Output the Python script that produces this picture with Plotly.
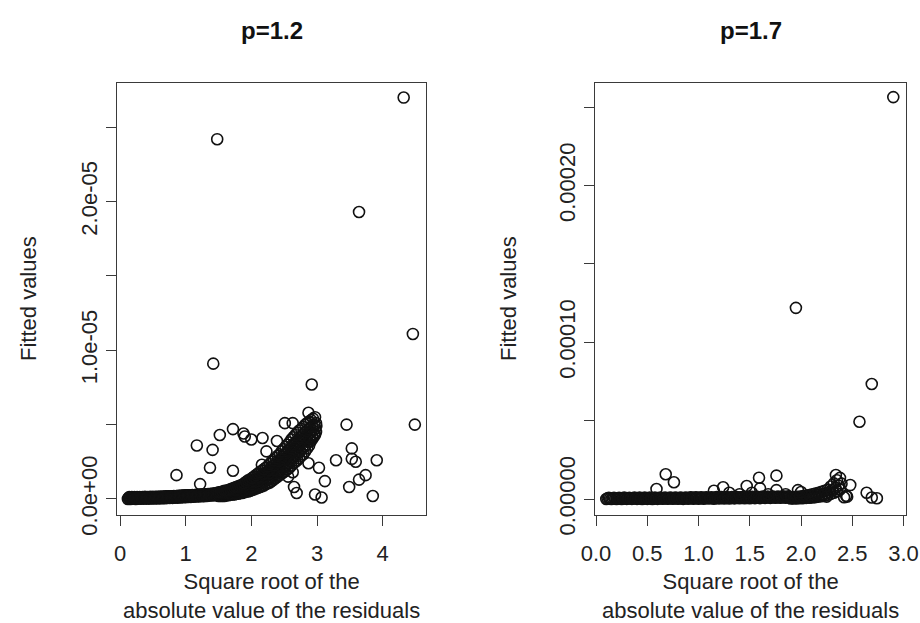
import plotly.graph_objects as go

W, H = 920, 623

# ---------------- p = 1.2 panel ----------------
# fitted values stored in units of 1e-5
p12_band_x = [0.12,0.14,0.16,0.18,0.20,0.22,0.24,0.26,0.28,0.30,
              0.32,0.34,0.36,0.38,0.40,0.42,0.44,0.46,0.48,0.50,
              0.52,0.54,0.56,0.58,0.60,0.62,0.64,0.66,0.68,0.70,
              0.72,0.74,0.76,0.78,0.80,0.82,0.84,0.86,0.88,0.90,
              0.92,0.94,0.96,0.98,1.00,1.02,1.04,1.06,1.08,1.10,
              1.12,1.14,1.16,1.18,1.20,1.22,1.24,1.26,1.28,1.30,
              1.32,1.34,1.36,1.38,1.40,1.42,1.44,1.46,1.48]
p12_band_y = [0.000,0.012,0.000,0.013,0.001,0.012,0.000,0.013,0.001,0.012,
              0.001,0.013,0.002,0.014,0.002,0.013,0.002,0.014,0.003,0.014,
              0.003,0.015,0.004,0.015,0.004,0.016,0.005,0.016,0.005,0.017,
              0.006,0.018,0.007,0.018,0.007,0.019,0.008,0.020,0.009,0.021,
              0.010,0.022,0.011,0.023,0.012,0.024,0.013,0.025,0.014,0.026,
              0.015,0.027,0.016,0.028,0.017,0.029,0.018,0.030,0.019,0.032,
              0.020,0.033,0.022,0.035,0.023,0.037,0.025,0.038,0.027]
p12_band_x_off = [0.13,0.15,0.17,0.19,0.21,0.23,0.25,0.27,0.29,0.31,
                  0.33,0.35,0.37,0.39,0.41,0.43,0.45,0.47,0.49,0.51,
                  0.53,0.55,0.57,0.59,0.61,0.63,0.65,0.67,0.69,0.71,
                  0.73,0.75,0.77,0.79,0.81,0.83,0.85,0.87,0.89,0.91,
                  0.93,0.95,0.97,0.99,1.01,1.03,1.05,1.07,1.09,1.11,
                  1.13,1.15,1.17,1.19,1.21,1.23,1.25,1.27,1.29,1.31,
                  1.33,1.35,1.37,1.39,1.41,1.43,1.45,1.47,1.49]
p12_band_y_off = [0.006,0.006,0.007,0.007,0.007,0.007,0.008,0.008,0.008,0.008,
                  0.009,0.009,0.009,0.009,0.010,0.010,0.010,0.010,0.011,0.011,
                  0.011,0.012,0.012,0.012,0.013,0.013,0.013,0.014,0.014,0.015,
                  0.015,0.016,0.016,0.017,0.017,0.018,0.018,0.019,0.019,0.020,
                  0.020,0.021,0.021,0.022,0.022,0.023,0.023,0.024,0.024,0.025,
                  0.025,0.026,0.026,0.027,0.027,0.028,0.028,0.029,0.029,0.030,
                  0.030,0.031,0.031,0.032,0.033,0.034,0.035,0.036,0.037]

p12_rise_x = [1.50,1.53,1.56,1.59,1.62,1.65,1.68,1.71,1.74,1.77,
              1.80,1.83,1.86,1.89,1.92,1.95,1.98,2.01,2.04,2.07,
              2.10,2.13,2.16,2.19,2.22,2.25,2.28,2.31,2.34,2.37,
              2.40,2.43,2.46,2.49,2.52,2.55,2.58,2.61,2.64,2.67,
              2.70,2.73,2.76,2.79,2.82,2.85,2.88,2.91,2.94,2.97]
p12_rise_x_off = [1.515,1.545,1.575,1.605,1.635,1.665,1.695,1.725,1.755,1.785,
                  1.815,1.845,1.875,1.905,1.935,1.965,1.995,2.025,2.055,2.085,
                  2.115,2.145,2.175,2.205,2.235,2.265,2.295,2.325,2.355,2.385,
                  2.415,2.445,2.475,2.505,2.535,2.565,2.595,2.625,2.655,2.685,
                  2.715,2.745,2.775,2.805,2.835,2.865,2.895,2.925,2.955,2.985]
p12_rise_r1 = [0.020,0.020,0.020,0.020,0.025,0.025,0.030,0.030,0.030,0.035,
               0.035,0.040,0.040,0.045,0.050,0.050,0.055,0.060,0.065,0.070,
               0.075,0.080,0.085,0.090,0.100,0.105,0.110,0.120,0.130,0.140,
               0.150,0.160,0.170,0.180,0.190,0.200,0.210,0.225,0.240,0.250,
               0.260,0.275,0.290,0.300,0.320,0.340,0.360,0.390,0.410,0.430]
p12_rise_r2 = [0.025,0.025,0.028,0.030,0.033,0.035,0.040,0.040,0.043,0.048,
               0.050,0.055,0.058,0.063,0.068,0.070,0.075,0.080,0.088,0.093,
               0.098,0.105,0.113,0.118,0.128,0.135,0.143,0.153,0.163,0.175,
               0.185,0.195,0.208,0.220,0.230,0.243,0.255,0.268,0.283,0.295,
               0.308,0.323,0.338,0.350,0.365,0.383,0.400,0.420,0.435,0.450]
p12_rise_r3 = [0.030,0.030,0.035,0.040,0.040,0.045,0.050,0.050,0.055,0.060,
               0.065,0.070,0.075,0.080,0.085,0.090,0.095,0.100,0.110,0.115,
               0.120,0.130,0.140,0.145,0.155,0.165,0.175,0.185,0.195,0.210,
               0.220,0.230,0.245,0.260,0.270,0.285,0.300,0.310,0.325,0.340,
               0.355,0.370,0.385,0.400,0.410,0.425,0.440,0.450,0.460,0.470]
p12_rise_r4 = [0.038,0.038,0.043,0.048,0.048,0.053,0.058,0.060,0.065,0.070,
               0.075,0.080,0.085,0.093,0.100,0.108,0.113,0.120,0.130,0.138,
               0.145,0.155,0.165,0.173,0.183,0.193,0.205,0.218,0.228,0.243,
               0.255,0.265,0.283,0.298,0.310,0.325,0.340,0.355,0.370,0.385,
               0.400,0.415,0.428,0.443,0.455,0.468,0.480,0.490,0.500,0.510]
p12_rise_r5 = [0.045,0.045,0.050,0.055,0.055,0.060,0.065,0.070,0.075,0.080,
               0.085,0.090,0.095,0.105,0.115,0.125,0.130,0.140,0.150,0.160,
               0.170,0.180,0.190,0.200,0.210,0.220,0.235,0.250,0.260,0.275,
               0.290,0.300,0.320,0.335,0.350,0.365,0.380,0.400,0.415,0.430,
               0.445,0.460,0.470,0.485,0.500,0.510,0.520,0.530,0.540,0.550]

p12_out_x = [4.32,1.48,3.64,4.46,1.42,2.92,2.87,2.51,2.63,2.99,3.45,4.49,
             1.72,1.52,1.88,1.90,2.00,2.17,2.39,1.17,1.41,2.23,2.88,3.53,
             3.29,3.53,3.59,3.91,2.87,3.03,1.37,1.72,2.63,3.12,0.86,1.22,
             3.74,3.64,3.49,2.65,2.69,2.97,3.07,3.85,2.16,2.56]
p12_out_y = [2.70,2.42,1.93,1.11,0.91,0.77,0.58,0.51,0.51,0.49,0.50,0.50,
             0.47,0.43,0.44,0.42,0.40,0.41,0.39,0.36,0.33,0.32,0.41,0.34,
             0.26,0.27,0.25,0.26,0.24,0.21,0.21,0.19,0.18,0.12,0.16,0.10,
             0.16,0.13,0.08,0.08,0.04,0.03,0.01,0.02,0.23,0.15]

# ---------------- p = 1.7 panel ----------------
# fitted values stored in units of 1e-4
p17_band_x = [0.100,0.125,0.150,0.175,0.200,0.225,0.250,0.275,0.300,0.325,
              0.350,0.375,0.400,0.425,0.450,0.475,0.500,0.525,0.550,0.575,
              0.600,0.625,0.650,0.675,0.700,0.725,0.750,0.775,0.800,0.825,
              0.850,0.875,0.900,0.925,0.950,0.975,1.000,1.025,1.050,1.075,
              1.100,1.125,1.150,1.175,1.200,1.225,1.250,1.275,1.300,1.325,
              1.350,1.375,1.400,1.425,1.450,1.475,1.500,1.525,1.550,1.575,
              1.600,1.625,1.650,1.675,1.700,1.725,1.750,1.775,1.800,1.825,
              1.850,1.875]
p17_band_y = [0.000,0.008,0.000,0.008,0.000,0.008,0.000,0.009,0.001,0.008,
              0.001,0.009,0.001,0.009,0.000,0.009,0.001,0.009,0.000,0.009,
              0.001,0.010,0.002,0.009,0.002,0.010,0.002,0.010,0.002,0.010,
              0.001,0.010,0.002,0.011,0.002,0.011,0.002,0.011,0.002,0.011,
              0.003,0.011,0.002,0.012,0.003,0.012,0.003,0.012,0.003,0.012,
              0.004,0.013,0.005,0.013,0.005,0.013,0.005,0.014,0.006,0.014,
              0.006,0.015,0.007,0.015,0.007,0.016,0.008,0.016,0.008,0.017,
              0.008,0.018]
p17_band_x_off = [0.112,0.137,0.162,0.187,0.212,0.237,0.262,0.287,0.312,0.337,
                  0.362,0.387,0.412,0.437,0.462,0.487,0.512,0.537,0.562,0.587,
                  0.612,0.637,0.662,0.687,0.712,0.737,0.762,0.787,0.812,0.837,
                  0.862,0.887,0.912,0.937,0.962,0.987,1.012,1.037,1.062,1.087,
                  1.112,1.137,1.162,1.187,1.212,1.237,1.262,1.287,1.312,1.337,
                  1.362,1.387,1.412,1.437,1.462,1.487,1.512,1.537,1.562,1.587,
                  1.612,1.637,1.662,1.687,1.712,1.737,1.762,1.787,1.812,1.837,
                  1.862,1.887]
p17_band_y_off = [0.004,0.004,0.004,0.004,0.004,0.004,0.004,0.004,0.004,0.004,
                  0.004,0.005,0.004,0.005,0.004,0.005,0.005,0.005,0.005,0.005,
                  0.005,0.005,0.006,0.005,0.006,0.006,0.006,0.006,0.006,0.006,
                  0.006,0.006,0.007,0.007,0.007,0.007,0.007,0.007,0.007,0.007,
                  0.007,0.007,0.008,0.008,0.008,0.008,0.008,0.008,0.008,0.008,
                  0.009,0.009,0.009,0.009,0.009,0.009,0.010,0.010,0.010,0.010,
                  0.011,0.011,0.011,0.011,0.012,0.012,0.012,0.012,0.013,0.013,
                  0.013,0.014]

p17_rise_x = [1.90,1.93,1.96,1.99,2.02,2.05,2.08,2.11,2.14,2.17,
              2.20,2.23,2.26,2.29,2.32,2.35,2.38]
p17_rise_x_off = [1.915,1.945,1.975,2.005,2.035,2.065,2.095,2.125,2.155,2.185,
                  2.215,2.245,2.275,2.305,2.335,2.365,2.395]
p17_rise_low = [0.003,0.003,0.004,0.005,0.006,0.007,0.008,0.010,0.012,0.015,
                0.018,0.022,0.027,0.033,0.040,0.050,0.060]
p17_rise_mid = [0.007,0.008,0.009,0.011,0.013,0.015,0.017,0.020,0.024,0.028,
                0.032,0.038,0.044,0.056,0.070,0.085,0.098]
p17_rise_high = [0.010,0.012,0.014,0.016,0.019,0.022,0.026,0.030,0.035,0.040,
                 0.046,0.053,0.060,0.080,0.100,0.120,0.135]

p17_out_x = [2.90,1.95,2.69,2.57,0.68,0.76,0.59,1.76,1.59,1.47,1.24,1.15,
             1.60,1.76,2.34,2.48,2.64,2.45,2.42,2.69,2.74,2.25,1.97,1.30,
             1.40,1.52,1.68,1.85,2.00,2.44]
p17_out_y = [2.565,1.22,0.734,0.493,0.158,0.107,0.064,0.149,0.136,0.083,0.075,0.053,
             0.068,0.057,0.153,0.089,0.040,0.015,0.011,0.010,0.005,0.015,0.057,0.040,
             0.030,0.040,0.030,0.030,0.045,0.020]

# axis ticks
p12_xticks = [0, 1, 2, 3, 4]
p17_xticks = [0.0, 0.5, 1.0, 1.5, 2.0, 2.5, 3.0]
p12_yticks = [0.0, 0.5e-5, 1.0e-5, 1.5e-5, 2.0e-5, 2.5e-5]
p12_yticktext = ["0.0e+00", "", "1.0e-05", "", "2.0e-05", ""]
p17_yticks = [0.0, 0.5e-4, 1.0e-4, 1.5e-4, 2.0e-4, 2.5e-4]
p17_yticktext = ["0.00000", "", "0.00010", "", "0.00020", ""]

# ---------------- assemble ----------------
p12_x = (p12_band_x + p12_band_x_off + p12_rise_x + p12_rise_x_off + p12_rise_x
         + p12_rise_x_off + p12_rise_x + p12_out_x)
p12_y = [v * 1e-5 for v in (p12_band_y + p12_band_y_off + p12_rise_r1 + p12_rise_r2
                            + p12_rise_r3 + p12_rise_r4 + p12_rise_r5 + p12_out_y)]
p17_x = (p17_band_x + p17_band_x_off + p17_rise_x + p17_rise_x_off + p17_rise_x
         + p17_out_x)
p17_y = [v * 1e-4 for v in (p17_band_y + p17_band_y_off + p17_rise_low + p17_rise_mid
                            + p17_rise_high + p17_out_y)]

marker = dict(symbol="circle-open", size=11, color="#111111", line=dict(width=1.6, color="#111111"))

fig = go.Figure()
fig.add_trace(go.Scatter(x=p12_x, y=p12_y, mode="markers", marker=marker,
                         xaxis="x", yaxis="y", showlegend=False))
fig.add_trace(go.Scatter(x=p17_x, y=p17_y, mode="markers", marker=marker,
                         xaxis="x2", yaxis="y2", showlegend=False))

FONT = "Liberation Sans, Arial, Helvetica, sans-serif"
LC = "#3a3a3a"
common = dict(showgrid=False, zeroline=False, showline=True, mirror=True,
              linecolor=LC, linewidth=1.3, ticks="outside", ticklen=10,
              tickwidth=1.3, tickcolor=LC, automargin=False,
              tickfont=dict(family=FONT, size=22, color="#222222"))

ydom = [(H - 515) / H, (H - 83) / H]
fig.update_layout(
    width=W, height=H, margin=dict(l=0, r=0, t=0, b=0, autoexpand=False),
    paper_bgcolor="white", plot_bgcolor="white",
    xaxis=dict(domain=[117 / W, 426 / W], range=[-0.046, 4.66], anchor="y",
               tickvals=p12_xticks, ticktext=[str(t) for t in p12_xticks],
               ticklabelstandoff=8, **common),
    yaxis=dict(domain=ydom, range=[-0.108e-5, 2.798e-5], anchor="x",
               tickvals=p12_yticks, ticktext=p12_yticktext, tickangle=-90, **common),
    xaxis2=dict(domain=[595 / W, 906 / W], range=[-0.01, 3.024], anchor="y2",
                tickvals=p17_xticks, ticktext=[f"{t:.1f}" for t in p17_xticks],
                ticklabelstandoff=8, **common),
    yaxis2=dict(domain=ydom, range=[-0.102e-4, 2.655e-4], anchor="x2",
                tickvals=p17_yticks, ticktext=p17_yticktext, tickangle=-90, **common),
)

ann_font = dict(family=FONT, size=22, color="#222222")
xtitle = "Square root of the<br>absolute value of the residuals"
for cx, ttl in [((117 + 426) / 2, "p=1.2"), ((595 + 906) / 2, "p=1.7")]:
    fig.add_annotation(x=cx / W, y=(H - 31) / H, xref="paper", yref="paper",
                       text=f"<b>{ttl}</b>", showarrow=False, xanchor="center", yanchor="middle",
                       font=dict(family=FONT, size=24, color="#111111"))
    fig.add_annotation(x=cx / W, y=(H - 596) / H, xref="paper", yref="paper",
                       text=xtitle, showarrow=False, xanchor="center", yanchor="middle",
                       font=ann_font)
for cx in [28, 508]:
    fig.add_annotation(x=cx / W, y=(H - 299) / H, xref="paper", yref="paper",
                       text="Fitted values", textangle=-90, showarrow=False,
                       xanchor="center", yanchor="middle", font=ann_font)

fig.write_html("out.html")
